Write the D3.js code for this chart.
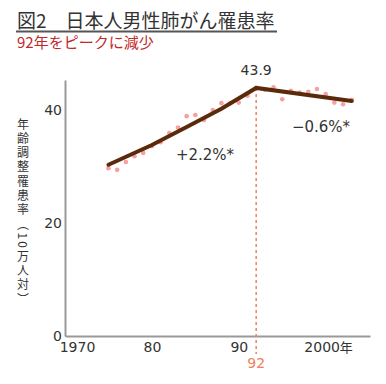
<!DOCTYPE html>
<meta charset="utf-8">
<script src="https://d3js.org/d3.v7.min.js"></script>
<style>
  body { margin: 0; background: #fff; }
  text { font-family: 'Noto Sans CJK JP', sans-serif; }
  .num { font-family: 'DejaVu Sans', sans-serif; }
</style>
<body>
<div id="chart"></div>
<script>

// observed yearly values (dots)
var years = d3.range(1975, 2004);
var rates = [29.7, 29.4, 30.8, 31.8, 32.4, 33.6, 34.3, 35.9, 36.9, 38.9,
             39.1, 38.2, 40.0, 41.2, 41.2, 41.3, 42.5, 43.9, 43.6, 44.0,
             41.9, 43.4, 43.1, 43.2, 43.7, 42.8, 41.3, 41.0, 41.8];

// fitted trend
var trendYears = [1975, 1980, 1984, 1988, 1992, 2003];
var trendRates = [30.3, 33.8, 37.0, 40.2, 43.9, 41.6];

var xTicks = [1970, 1980, 1990, 2000];
var xTickLabels = ["1970", "80", "90", "2000"];
var yTicks = [0, 20, 40];

var width = 386, height = 384;

var svg = d3.select("#chart").append("svg")
    .attr("width", width)
    .attr("height", height);

var x = d3.scaleLinear().domain([1970, 2005.1]).range([65, 370]);
var y = d3.scaleLinear().domain([0, 45.3]).range([336, 80]);

// title
svg.append("text")
    .attr("x", 17).attr("y", 28)
    .style("font-size", "19px").style("fill", "#333")
    .text("図2　日本人男性肺がん罹患率");
svg.append("line")
    .attr("x1", 16).attr("x2", 277).attr("y1", 31.5).attr("y2", 31.5)
    .style("stroke", "#555").style("stroke-width", 2);
svg.append("text")
    .attr("x", 17).attr("y", 48)
    .style("font-size", "15px").style("fill", "#c0282a")
    .text("92年をピークに減少");

// axes
var xAxis = svg.append("g")
    .attr("transform", "translate(0," + y(0) + ")")
    .call(d3.axisBottom(x).tickValues(xTicks).tickSize(0).tickPadding(6)
      .tickFormat(function(d, i) { return xTickLabels[i]; }));
xAxis.select(".domain").style("stroke", "#999").style("stroke-width", 2);
xAxis.selectAll("text")
    .attr("class", "num")
    .style("font-size", "14px").style("fill", "#333")
    .attr("dx", function(d) { return d == 1970 ? 12 : d == 2000 ? -4 : 0; });
// 年 after 2000
svg.append("text")
    .attr("x", x(2000) + 14).attr("y", y(0) + 16)
    .style("font-size", "13px").style("fill", "#333")
    .text("年");

var yAxis = svg.append("g")
    .attr("transform", "translate(" + x(1970) + ",0)")
    .call(d3.axisLeft(y).tickValues(yTicks).tickSize(0).tickPadding(3));
yAxis.select(".domain").style("stroke", "#999").style("stroke-width", 2);
yAxis.selectAll("text").attr("class", "num")
    .style("font-size", "14px").style("fill", "#333");

// y axis title (vertical)
svg.append("text")
    .attr("x", 23).attr("y", 118)
    .style("writing-mode", "vertical-rl")
    .style("font-size", "12px").style("letter-spacing", "2.3px")
    .style("fill", "#333")
    .text("年齢調整罹患率（10万人対）");

// peak marker
svg.append("line")
    .attr("x1", x(1992)).attr("x2", x(1992))
    .attr("y1", y(43.9)).attr("y2", 354)
    .style("stroke", "#f08060").style("stroke-width", 1.5)
    .style("stroke-dasharray", "3,3");
svg.append("text")
    .attr("class", "num")
    .attr("x", x(1992)).attr("y", 368)
    .attr("text-anchor", "middle")
    .style("font-size", "14px").style("fill", "#f08060")
    .text("92");

// dots
svg.selectAll("circle")
    .data(years)
    .enter().append("circle")
    .attr("cx", function(d) { return x(d); })
    .attr("cy", function(d, i) { return y(rates[i]); })
    .attr("r", 2.3)
    .style("fill", "#f7a0a0");

// trend line
var line = d3.line()
    .x(function(d) { return x(d); })
    .y(function(d, i) { return y(trendRates[i]); });
svg.append("path")
    .datum(trendYears)
    .attr("d", line)
    .style("fill", "none")
    .style("stroke", "#5a2a0a")
    .style("stroke-width", 4)
    .style("stroke-linecap", "round");

// annotations
svg.append("text")
    .attr("class", "num")
    .attr("x", x(1992)).attr("y", 75)
    .attr("text-anchor", "middle")
    .style("font-size", "14px").style("fill", "#333")
    .text("43.9");
svg.append("text")
    .attr("class", "num")
    .attr("x", 205).attr("y", 160)
    .attr("text-anchor", "middle")
    .style("font-size", "15px").style("fill", "#333")
    .text("+2.2%*");
svg.append("text")
    .attr("class", "num")
    .attr("x", 321).attr("y", 132)
    .attr("text-anchor", "middle")
    .style("font-size", "15px").style("fill", "#333")
    .text("−0.6%*");

</script>
</body>
